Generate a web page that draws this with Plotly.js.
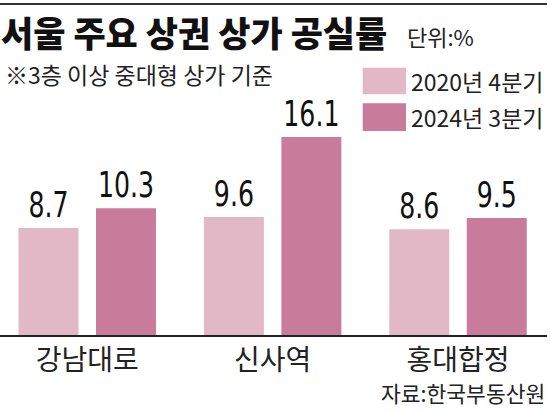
<!DOCTYPE html>
<html>
<head>
<meta charset="utf-8">
<script src="https://cdn.plot.ly/plotly-3.0.1.min.js"></script>
<style>
  html, body { margin: 0; padding: 0; background: #fff; }
  #chart { width: 550px; height: 411px; }
</style>
</head>
<body>
<div id="chart"></div>
<script>
// ---- data ----
const categories = ['강남대로', '신사역', '홍대합정'];
const seriesNames = ['2020년 4분기', '2024년 3분기'];
const values2020Q4 = [8.7, 9.6, 8.6];
const values2024Q3 = [10.3, 16.1, 9.5];
const titleText = '서울 주요 상권 상가 공실률';
const unitText = '단위:%';
const noteText = '※3층 이상 중대형 상가 기준';
const sourceText = '자료:한국부동산원';

// ---- styles ----
const colors = ['#e2b7c6', '#c87b9a'];
const KR = 'Noto Sans CJK KR, Noto Sans, sans-serif';
const NUM = 'Liberation Sans Narrow, Arial Narrow, DejaVu Sans Condensed, sans-serif';

function barTrace(name, vals, color) {
  return {
    type: 'bar',
    name: name,
    x: categories,
    y: vals,
    marker: { color: color, line: { width: 0 } },
    text: vals.map(v => v.toFixed(1)),
    textposition: 'outside',
    textfont: { family: NUM, size: 35, color: '#111' },
    cliponaxis: false,
    constraintext: 'none',
    hoverinfo: 'skip'
  };
}

const data = [
  barTrace(seriesNames[0], values2020Q4, colors[0]),
  barTrace(seriesNames[1], values2024Q3, colors[1])
];

const layout = {
  width: 550,
  height: 411,
  autosize: false,
  margin: { l: 0, r: 3, t: 100, b: 76, pad: 0 },
  paper_bgcolor: '#fff',
  plot_bgcolor: '#fff',
  showlegend: false,
  barmode: 'group',
  bargap: 0.164,
  bargroupgap: 0.226,
  title: {
    text: titleText,
    font: { family: KR, size: 35, weight: 900, color: '#111' },
    xref: 'container', x: 1 / 550, xanchor: 'left',
    yref: 'container', y: 1 - 35 / 411, yanchor: 'middle'
  },
  xaxis: {
    type: 'category',
    range: [-0.4706, 2.48],
    showline: true, linecolor: '#222', linewidth: 1.5,
    ticks: '', showgrid: false, zeroline: false,
    tickfont: { family: KR, size: 28, color: '#222' },
    fixedrange: true
  },
  yaxis: {
    range: [0, 19.1],
    visible: false,
    showgrid: false, zeroline: false,
    fixedrange: true
  },
  shapes: [
    { type: 'line', xref: 'paper', yref: 'paper', x0: 0, x1: 1, y0: 1.4085, y1: 1.4085,
      line: { color: '#333', width: 2 } },
    { type: 'rect', xref: 'paper', yref: 'paper', x0: 0.6631, x1: 0.7422, y0: 1.0243, y1: 1.1374,
      fillcolor: colors[0], line: { width: 0 } },
    { type: 'rect', xref: 'paper', yref: 'paper', x0: 0.6631, x1: 0.7422, y0: 0.8681, y1: 0.9860,
      fillcolor: colors[1], line: { width: 0 } }
  ],
  annotations: [
    { text: unitText, xref: 'paper', yref: 'paper', x: 0.7404, y: 1.2723,
      xanchor: 'left', yanchor: 'middle', showarrow: false,
      font: { family: KR, size: 22, color: '#222' } },
    { text: noteText, xref: 'paper', yref: 'paper', x: 0.0055, y: 1.1106,
      xanchor: 'left', yanchor: 'middle', showarrow: false,
      font: { family: KR, size: 23, color: '#222' } },
    { text: seriesNames[0], xref: 'paper', yref: 'paper', x: 0.7477, y: 1.0809,
      xanchor: 'left', yanchor: 'middle', showarrow: false,
      font: { family: KR, size: 23, color: '#222' } },
    { text: seriesNames[1], xref: 'paper', yref: 'paper', x: 0.7477, y: 0.9277,
      xanchor: 'left', yanchor: 'middle', showarrow: false,
      font: { family: KR, size: 23, color: '#222' } },
    { text: sourceText, xref: 'paper', yref: 'paper', x: 1, y: -0.2447,
      xanchor: 'right', yanchor: 'middle', showarrow: false,
      font: { family: KR, size: 21.5, color: '#222' } }
  ]
};

Plotly.newPlot('chart', data, layout, { staticPlot: true, displayModeBar: false }).then(function (gd) {
  // condense the value labels horizontally (the original uses a narrow face)
  gd.querySelectorAll('.bartext text, text.bartext').forEach(function (t) {
    var w = t.getComputedTextLength();
    if (w > 0) {
      t.setAttribute('textLength', (w * 0.8).toFixed(1));
      t.setAttribute('lengthAdjust', 'spacingAndGlyphs');
    }
  });
});
</script>
</body>
</html>
